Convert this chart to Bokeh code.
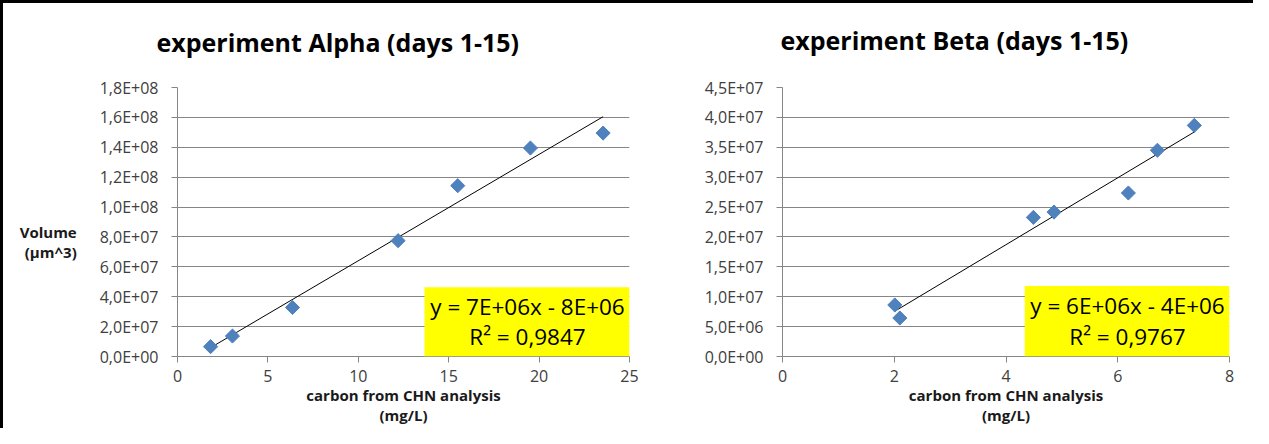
import numpy as np
from bokeh.plotting import figure
from bokeh.layouts import row
from bokeh.models import Range1d, FixedTicker, CustomJSTickFormatter, Label, BoxAnnotation, Title
from bokeh.embed import file_html
from bokeh.resources import INLINE

# ---------------- data ----------------
alpha_title = "experiment Alpha (days 1-15)"
beta_title = "experiment Beta (days 1-15)"
x_label_lines = ["carbon from CHN analysis", "(mg/L)"]
y_label_lines = ["Volume", "(µm^3)"]

alpha_carbon = [1.83, 3.04, 6.36, 12.2, 15.5, 19.52, 23.54]
alpha_volume = [0.66e7, 1.37e7, 3.28e7, 7.75e7, 11.43e7, 13.95e7, 14.95e7]
alpha_x_ticks = [0, 5, 10, 15, 20, 25]
alpha_y_ticks = [0, 2e7, 4e7, 6e7, 8e7, 1.0e8, 1.2e8, 1.4e8, 1.6e8, 1.8e8]
alpha_equation = "y = 7E+06x - 8E+06"
alpha_r2 = "R² = 0,9847"

beta_carbon = [2.01, 2.10, 4.49, 4.86, 6.19, 6.71, 7.37]
beta_volume = [8.62e6, 6.44e6, 23.27e6, 24.16e6, 27.35e6, 34.5e6, 38.66e6]
beta_x_ticks = [0, 2, 4, 6, 8]
beta_y_ticks = [0, 5e6, 1e7, 1.5e7, 2e7, 2.5e7, 3e7, 3.5e7, 4e7, 4.5e7]
beta_equation = "y = 6E+06x - 4E+06"
beta_r2 = "R² = 0,9767"

# ---------------- style ----------------
FONT = "Open Sans"
BLUE = "#4F81BD"
GRID = "#868686"
TICK_TEXT = "#404040"

fmt_js = """
var s = tick.toExponential(1).split('e');
var m = s[0].replace('.', ',');
var e = parseInt(s[1]);
var a = Math.abs(e);
return m + 'E' + (e < 0 ? '-' : '+') + (a < 10 ? '0' : '') + a;
"""


def make_chart(width, height, mb, x_ticks, y_ticks, xs, ys, title, title_offset, gap_standoff,
               eq, r2, box_left, box_top, eq_off):
    p = figure(width=width, height=height, output_backend="svg", toolbar_location=None,
               x_range=Range1d(x_ticks[0], x_ticks[-1]),
               y_range=Range1d(y_ticks[0], y_ticks[-1]),
               min_border_left=mb[0], min_border_right=mb[1],
               min_border_top=mb[2], min_border_bottom=mb[3])
    p.outline_line_color = None
    p.background_fill_color = "white"
    p.border_fill_color = "white"

    # empty gap between the title and the plot area
    p.add_layout(Title(text=" ", text_font_size="20px", standoff=gap_standoff), "above")

    # title
    p.title.text = title
    p.title.align = "left"
    p.title.offset = title_offset
    p.title.standoff = 0
    p.title.text_font = FONT
    p.title.text_font_style = "bold"
    p.title.text_font_size = "25px"
    p.title.text_color = "#000000"

    p.xaxis.ticker = FixedTicker(ticks=x_ticks)
    p.yaxis.ticker = FixedTicker(ticks=y_ticks)
    p.yaxis.formatter = CustomJSTickFormatter(code=fmt_js)
    for ax in (p.xaxis, p.yaxis):
        ax.axis_line_color = GRID
        ax.axis_line_width = 1
        ax.major_tick_line_color = GRID
        ax.major_tick_out = 6
        ax.major_tick_in = 0
        ax.minor_tick_line_color = None
        ax.major_label_text_font = FONT
        ax.major_label_text_font_size = "16px"
        ax.major_label_text_color = TICK_TEXT
        ax.axis_label_text_font = FONT
        ax.axis_label_text_font_style = "bold"
        ax.axis_label_text_font_size = "15px"
        ax.axis_label_text_color = "#1a1a1a"
        ax.axis_label_text_line_height = 1.0
    p.xaxis.major_label_standoff = 7
    p.yaxis.major_label_standoff = 13

    p.xaxis.axis_label = "\n".join(x_label_lines)
    p.xaxis.axis_label_standoff = 0

    p.xgrid.grid_line_color = None
    p.ygrid.grid_line_color = GRID
    p.ygrid.grid_line_width = 1

    # trendline (least squares from the data)
    k, b = np.polyfit(xs, ys, 1)
    tx = np.array([min(xs), max(xs)])
    p.line(tx, k * tx + b, line_color="#000000", line_width=1)

    p.scatter(xs, ys, marker="square", size=10, angle=np.pi / 4,
              fill_color=BLUE, line_color=BLUE)

    # equation box
    p.add_layout(BoxAnnotation(left=box_left, right=x_ticks[-1], bottom=y_ticks[0], top=box_top,
                               fill_color="#FFFF00", fill_alpha=1, line_color=None))
    p.add_layout(Label(x=x_ticks[-1], y=y_ticks[0], x_offset=eq_off[0], y_offset=eq_off[1],
                       text=eq, text_font=FONT, text_font_size="22.5px", text_color="#000000",
                       text_align="center", text_baseline="middle"))
    p.add_layout(Label(x=x_ticks[-1], y=y_ticks[0], x_offset=eq_off[0], y_offset=eq_off[2],
                       text=r2, text_font=FONT, text_font_size="22.5px", text_color="#000000",
                       text_align="center", text_baseline="middle"))
    return p


p1 = make_chart(637, 425, (174, 11, 82, 71), alpha_x_ticks, alpha_y_ticks,
                alpha_carbon, alpha_volume, alpha_title, -21, 5,
                alpha_equation, alpha_r2, 13.66, 4.64e7, (-102, 50, 20))
p2 = make_chart(613, 425, (142, 24, 84, 72), beta_x_ticks, beta_y_ticks,
                beta_carbon, beta_volume, beta_title, -2, 7,
                beta_equation, beta_r2, 4.336, 1.18e7, (-102, 51, 20))

# vertical axis title, written horizontally (two leading empty lines place it
# below the middle of the axis, as in the original)
p1.yaxis.axis_label = "\n\n" + "\n".join(y_label_lines)
p1.yaxis.axis_label_orientation = "horizontal"
p1.yaxis.axis_label_standoff = 20

layout = row(p1, p2, styles={"border-top": "3px solid #000000",
                             "border-left": "3px solid #000000"})

open("out.html", "w").write(file_html(layout, INLINE))
